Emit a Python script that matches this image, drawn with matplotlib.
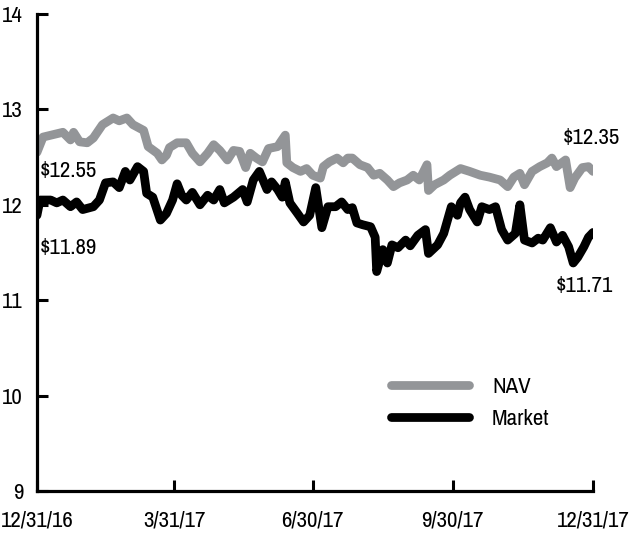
import matplotlib
matplotlib.use("Agg")
import matplotlib.pyplot as plt
import numpy as np
import pandas as pd
from matplotlib.lines import Line2D

plt.rcParams['font.family'] = ['Archivo Narrow', 'DejaVu Sans']

start = pd.Timestamp('2016-12-31')

nav_days = [0, 4, 17, 22, 24, 28, 33, 37, 43, 50, 54, 59, 63, 70, 73, 79, 82, 85, 87, 92,
            98, 102, 107, 112, 116, 120, 125, 129, 133, 137, 140, 144, 148, 152, 158, 160,
            163, 164, 168, 173, 177, 181, 186, 188, 192, 197, 201, 204, 207, 212, 217, 221,
            225, 230, 234, 238, 243, 247, 251, 256, 257, 261, 267, 271, 278, 284, 291, 297,
            304, 309, 313, 317, 320, 325, 330, 335, 338, 341, 347, 350, 353, 358, 362, 365]
nav_vals = [12.55, 12.71, 12.76, 12.68, 12.76, 12.66, 12.65, 12.70, 12.84, 12.91, 12.88,
            12.91, 12.84, 12.78, 12.61, 12.54, 12.47, 12.52, 12.60, 12.65, 12.65, 12.54,
            12.45, 12.54, 12.63, 12.57, 12.47, 12.57, 12.56, 12.39, 12.54, 12.49, 12.45,
            12.59, 12.61, 12.66, 12.73, 12.44, 12.39, 12.35, 12.38, 12.31, 12.28, 12.40,
            12.45, 12.49, 12.44, 12.49, 12.49, 12.42, 12.39, 12.31, 12.33, 12.26, 12.19,
            12.23, 12.26, 12.31, 12.26, 12.42, 12.15, 12.21, 12.26, 12.31, 12.38, 12.35,
            12.31, 12.29, 12.26, 12.19, 12.29, 12.33, 12.21, 12.35, 12.40, 12.44, 12.49,
            12.40, 12.47, 12.18, 12.28, 12.39, 12.40, 12.35]

mkt_days = [0, 2, 9, 13, 17, 22, 26, 30, 37, 41, 45, 50, 54, 58, 61, 66, 70, 72, 76, 81,
            85, 89, 92, 95, 98, 102, 107, 112, 116, 120, 123, 129, 135, 138, 142, 146, 151,
            154, 158, 161, 163, 166, 171, 175, 179, 183, 187, 191, 196, 200, 204, 207, 210,
            214, 219, 222, 223, 227, 230, 233, 237, 242, 245, 250, 255, 257, 263, 267, 272,
            276, 278, 281, 284, 289, 292, 297, 301, 305, 309, 314, 317, 320, 325, 329, 332,
            337, 341, 345, 349, 352, 355, 359, 362, 365]
mkt_vals = [11.89, 12.05, 12.05, 12.02, 12.05, 11.98, 12.03, 11.95, 11.98, 12.05, 12.23,
            12.24, 12.18, 12.35, 12.26, 12.40, 12.35, 12.12, 12.08, 11.84, 11.91, 12.05,
            12.22, 12.10, 12.05, 12.13, 12.00, 12.10, 12.05, 12.16, 12.02, 12.08, 12.16,
            12.03, 12.26, 12.35, 12.16, 12.24, 12.16, 12.08, 12.24, 12.02, 11.91, 11.82,
            11.89, 12.18, 11.76, 11.98, 11.98, 12.03, 11.95, 11.97, 11.81, 11.79, 11.77,
            11.66, 11.30, 11.53, 11.39, 11.58, 11.55, 11.63, 11.57, 11.68, 11.74, 11.49,
            11.58, 11.70, 11.98, 11.89, 12.02, 12.08, 11.95, 11.82, 11.98, 11.95, 11.98,
            11.74, 11.63, 11.70, 12.00, 11.63, 11.60, 11.65, 11.63, 11.76, 11.61, 11.68,
            11.56, 11.39, 11.45, 11.56, 11.66, 11.71]

tick_dates = ['2016-12-31', '2017-03-31', '2017-06-30', '2017-09-30', '2017-12-31']
tick_labels = ['12/31/16', '3/31/17', '6/30/17', '9/30/17', '12/31/17']
y_ticks = [9, 10, 11, 12, 13, 14]

nav_x = start + pd.to_timedelta(nav_days, unit='D')
mkt_x = start + pd.to_timedelta(mkt_days, unit='D')

gray = '#939598'
fig = plt.figure(figsize=(6.31, 5.34), dpi=100)
ax = fig.add_axes([0.0586, 0.0805, 0.8812, 0.8933])

ax.plot(nav_x, nav_vals, color=gray, lw=6.3, solid_joinstyle='round', solid_capstyle='round')
ax.plot(mkt_x, mkt_vals, color='black', lw=6.3, solid_joinstyle='round', solid_capstyle='round')

ax.set_ylim(9, 14)
ax.set_xlim(pd.Timestamp(tick_dates[0]), pd.Timestamp(tick_dates[-1]))
ax.set_yticks(y_ticks)
ax.set_xticks(pd.to_datetime(tick_dates))
ax.set_xticklabels(tick_labels)

for s in ['top', 'right']:
    ax.spines[s].set_visible(False)
for s in ['left', 'bottom']:
    ax.spines[s].set_linewidth(2.3)
fs = 16.5
ax.tick_params(direction='in', length=8, width=2.2, labelsize=fs)
ax.tick_params(axis='x', pad=14)
ax.tick_params(axis='y', pad=10)

ax.text(pd.Timestamp('2017-01-02'), 12.35, r'\$12.55', fontsize=fs, ha='left', va='center')
ax.text(pd.Timestamp('2017-01-02'), 11.55, r'\$11.89', fontsize=fs, ha='left', va='center')
ax.text(pd.Timestamp('2017-12-31') + pd.Timedelta(days=18), 12.70, r'\$12.35', fontsize=fs, ha='right', va='center')
ax.text(pd.Timestamp('2017-12-31') + pd.Timedelta(days=13), 11.15, r'\$11.71', fontsize=fs, ha='right', va='center')

handles = [Line2D([0], [0], color=gray, lw=6.3, solid_capstyle='round'),
           Line2D([0], [0], color='black', lw=6.3, solid_capstyle='round')]
ax.legend(handles, ['NAV', 'Market'], loc='upper left', bbox_to_anchor=(0.637, 0.24),
          frameon=False, fontsize=fs, handlelength=3.4, handletextpad=1.0,
          labelspacing=0.55, borderpad=0, borderaxespad=0)

fig.savefig('out.png', dpi=100)
